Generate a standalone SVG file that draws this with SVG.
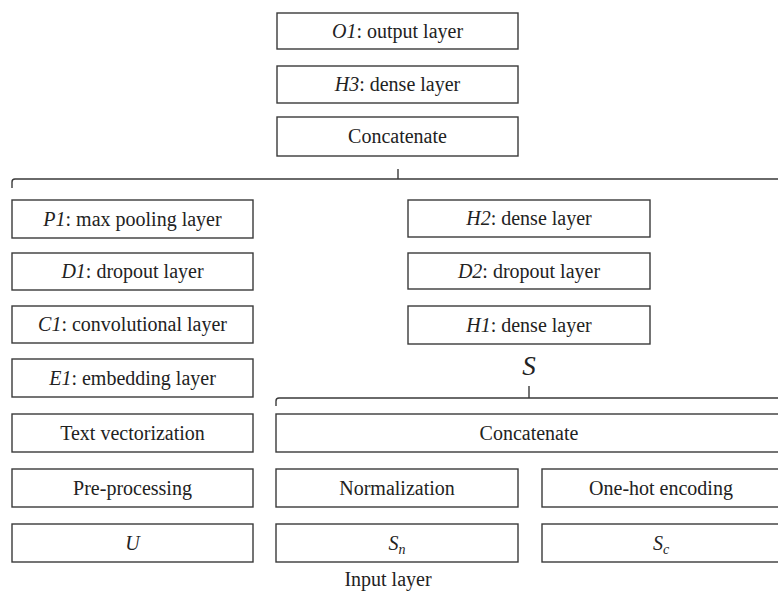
<svg xmlns="http://www.w3.org/2000/svg" width="778" height="595" viewBox="0 0 778 595">
  <style>
    .box { fill: #ffffff; stroke: #3a3a3a; stroke-width: 1.4; }
    .lbl { font-family: "Liberation Serif", "Times New Roman", serif; font-size: 20px; fill: #222222; text-anchor: middle; }
    .it { font-style: italic; }
    .brace { fill: none; stroke: #3a3a3a; stroke-width: 1.4; }
  </style>
  <rect width="778" height="595" fill="#ffffff"/>

  <!-- merge brackets -->
  <g id="connectors">
    <path class="brace" d="M12,188 L12,182 Q12,179 15,179 L790,179"/>
    <path class="brace" d="M398,169 L398,179"/>
    <path class="brace" d="M276,406 L276,401 Q276,398 279,398 L790,398"/>
    <path class="brace" d="M529,386 L529,398"/>
  </g>

  <!-- output stack -->
  <g id="o1"><rect class="box" x="277" y="13" width="241" height="36"/>
    <text class="lbl" x="397.5" y="38"><tspan class="it">O1</tspan>: output layer</text></g>
  <g id="h3"><rect class="box" x="277" y="66" width="241" height="37"/>
    <text class="lbl" x="397.5" y="91"><tspan class="it">H3</tspan>: dense layer</text></g>
  <g id="concat-top"><rect class="box" x="277" y="117" width="241" height="39"/>
    <text class="lbl" x="397.5" y="143">Concatenate</text></g>

  <!-- text branch -->
  <g id="p1"><rect class="box" x="12" y="200" width="241" height="38"/>
    <text class="lbl" x="132.5" y="226"><tspan class="it">P1</tspan>: max pooling layer</text></g>
  <g id="d1"><rect class="box" x="12" y="253" width="241" height="37"/>
    <text class="lbl" x="132.5" y="278"><tspan class="it">D1</tspan>: dropout layer</text></g>
  <g id="c1"><rect class="box" x="12" y="306" width="241" height="37"/>
    <text class="lbl" x="132.5" y="331"><tspan class="it">C1</tspan>: convolutional layer</text></g>
  <g id="e1"><rect class="box" x="12" y="359" width="241" height="38"/>
    <text class="lbl" x="132.5" y="385"><tspan class="it">E1</tspan>: embedding layer</text></g>
  <g id="text-vectorization"><rect class="box" x="12" y="414" width="241" height="38"/>
    <text class="lbl" x="132.5" y="440">Text vectorization</text></g>
  <g id="pre-processing"><rect class="box" x="12" y="469" width="241" height="38"/>
    <text class="lbl" x="132.5" y="495">Pre-processing</text></g>
  <g id="u"><rect class="box" x="12" y="524" width="241" height="38"/>
    <text class="lbl it" x="132.5" y="550">U</text></g>

  <!-- structured branch -->
  <g id="h2"><rect class="box" x="408" y="200" width="242" height="37"/>
    <text class="lbl" x="529" y="225"><tspan class="it">H2</tspan>: dense layer</text></g>
  <g id="d2"><rect class="box" x="408" y="253" width="242" height="36"/>
    <text class="lbl" x="529" y="278"><tspan class="it">D2</tspan>: dropout layer</text></g>
  <g id="h1"><rect class="box" x="408" y="306" width="242" height="38"/>
    <text class="lbl" x="529" y="332"><tspan class="it">H1</tspan>: dense layer</text></g>
  <g id="s"><text class="lbl it" x="529" y="375" style="font-size:27px">S</text></g>
  <g id="concat-bottom"><rect class="box" x="276" y="414" width="520" height="38"/>
    <text class="lbl" x="529" y="440">Concatenate</text></g>
  <g id="normalization"><rect class="box" x="276" y="469" width="242" height="38"/>
    <text class="lbl" x="397" y="495">Normalization</text></g>
  <g id="one-hot"><rect class="box" x="542" y="469" width="254" height="38"/>
    <text class="lbl" x="661" y="495">One-hot encoding</text></g>
  <g id="sn"><rect class="box" x="276" y="524" width="242" height="38"/>
    <text class="lbl it" x="397" y="550">S<tspan dy="4" style="font-size:14px">n</tspan></text></g>
  <g id="sc"><rect class="box" x="542" y="524" width="254" height="38"/>
    <text class="lbl it" x="661" y="550">S<tspan dy="4" style="font-size:14px">c</tspan></text></g>

  <text id="input-layer" class="lbl" x="388" y="586">Input layer</text>
</svg>
